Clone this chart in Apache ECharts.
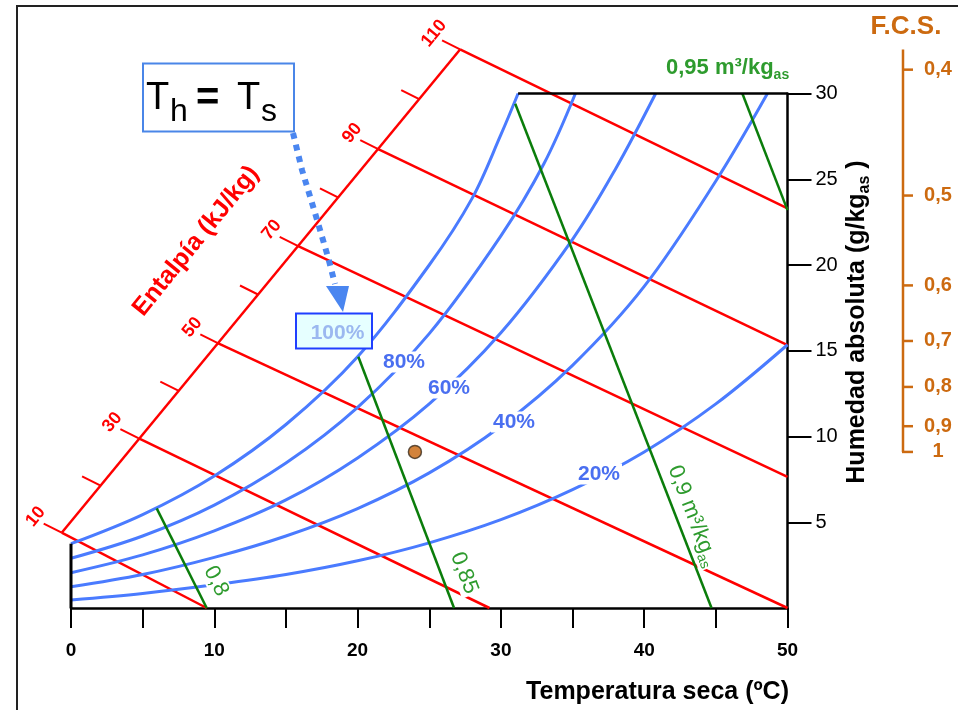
<!DOCTYPE html>
<html><head><meta charset="utf-8">
<script src="https://cdn.jsdelivr.net/npm/echarts@6/dist/echarts.min.js"></script>
<style>html,body{margin:0;padding:0;background:#fff}#c{width:958px;height:710px}</style>
</head><body><div id="c"></div>
<script>
// ---------------- data ----------------
const xTickLabels = [0, 10, 20, 30, 40, 50];
const yTickLabels = [5, 10, 15, 20, 25, 30];

// relative humidity curves: [dry temperature ºC, absolute humidity g/kg]
const rhNames = ['100%', '80%', '60%', '40%', '20%'];
const rh100 = [[0,3.75],[5,5.45],[10,7.7],[15,10.7],[20,14.65],[25,20.0],[28,23.9],[30,27.6],[31.2,30]];
const rh80  = [[0,2.9],[5,4.2],[10,6.0],[15,8.45],[20,11.7],[25,16.0],[30,21.7],[33,25.9],[35.2,30]];
const rh60  = [[0,2.06],[5,3.1],[10,4.5],[15,6.3],[20,8.75],[25,11.9],[30,16.05],[35,21.5],[38,25.6],[40.8,30]];
const rh40  = [[0,1.24],[5,1.95],[10,2.95],[15,4.2],[20,5.8],[25,7.88],[30,10.6],[35,14.15],[40,18.75],[45,24.9],[48.6,30]];
const rh20  = [[0,0.47],[5,0.85],[10,1.35],[15,1.95],[20,2.75],[25,3.8],[30,5.15],[35,6.9],[40,9.1],[45,11.9],[50,15.35]];

// enthalpy scale (kJ/kg): position of each graduation on the oblique axis
const enthalpyValues = [10, 20, 30, 40, 50, 60, 70, 80, 90, 100, 110];
const enthalpyAxisT  = [-0.65, 2.03, 4.7, 7.49, 10.28, 13.05, 15.82, 18.63, 21.44, 24.3, 27.15];
const enthalpyAxisW  = [4.39, 7.15, 9.9, 12.67, 15.43, 18.28, 21.12, 23.94, 26.76, 29.67, 32.57];
const enthalpyLabelled = [10, 30, 50, 70, 90, 110];
const enthalpyEndT = [9.47, 29.2, 50, 50, 50, 50];
const enthalpyEndW = [0, 0, 0, 7.65, 15.33, 23.3];

// specific volume lines (m3/kg as)
const volumeNames  = ['0,8', '0,85', '0,9', '0,95'];
const volumeStartT = [5.98, 20.05, 31.0, 46.85];
const volumeStartW = [5.81, 14.65, 29.4, 30];
const volumeEndT   = [9.47, 26.73, 44.7, 50];
const volumeEndW   = [0, 0, 0, 23.2];

// sensible heat factor scale (F.C.S.), graduations expressed on the humidity scale
const fcsLabels = ['0,4', '0,5', '0,6', '0,7', '0,8', '0,9', '1'];
const fcsW      = [31.39, 24.05, 18.81, 15.57, 12.89, 10.60, 9.10];
const fcsAxisW  = [32.56, 9.09];

// state point
const statePoint = [24.0, 9.1];

// ---------------- chart ----------------
const FONT = "'Liberation Sans', Arial, Helvetica, sans-serif";
const RED = '#ff0000', BLUE = '#4a7bff', GREEN = '#0b7d0b', GTXT = '#2e9b2e', ORANGE = '#cc6a10', BTXT = '#4a6ff0';
const FCS_X = 58.06;
const chart = echarts.init(document.getElementById('c'), null, {renderer: 'canvas', width: 958, height: 710});

// straight segments drawn through the cartesian scales: rows [x1, y1, x2, y2]
function segments(rows, color, width, z) {
  return {
    type: 'custom', coordinateSystem: 'cartesian2d', clip: false, silent: true, z: z, data: rows,
    encode: {x: [0, 2], y: [1, 3]},
    renderItem: function (params, api) {
      const a = api.coord([api.value(0), api.value(1)]);
      const b = api.coord([api.value(2), api.value(3)]);
      return {type: 'line', shape: {x1: a[0], y1: a[1], x2: b[0], y2: b[1]},
        style: {stroke: color, lineWidth: width, lineCap: 'butt'}};
    }
  };
}
const series = [];
// enthalpy lines
series.push(segments(enthalpyLabelled.map(function (h, i) {
  const k = enthalpyValues.indexOf(h);
  return [enthalpyAxisT[k], enthalpyAxisW[k], enthalpyEndT[i], enthalpyEndW[i]];
}), RED, 2.5, 2));
// enthalpy oblique axis
const nE = enthalpyValues.length - 1;
series.push(segments([[enthalpyAxisT[0], enthalpyAxisW[0], enthalpyAxisT[nE], enthalpyAxisW[nE]]], RED, 2.5, 2));
// enthalpy ticks + labels
series.push({
  type: 'custom', coordinateSystem: 'cartesian2d', clip: false, silent: true, z: 3,
  data: enthalpyValues.map(function (h, i) { return [enthalpyAxisT[i], enthalpyAxisW[i], h]; }),
  renderItem: function (params, api) {
    const p = api.coord([api.value(0), api.value(1)]);
    const h = api.value(2);
    const children = [{type: 'line', shape: {x1: p[0], y1: p[1], x2: p[0] - 18, y2: p[1] - 9},
      style: {stroke: RED, lineWidth: 2}}];
    if (enthalpyLabelled.indexOf(h) >= 0) {
      children.push({type: 'text', x: p[0] - 26, y: p[1] - 16, rotation: 50.5 * Math.PI / 180,
        style: {text: String(h), font: 'bold 18px ' + FONT, fill: RED, align: 'center', verticalAlign: 'middle'}});
    }
    return {type: 'group', children: children};
  }
});
// relative humidity curves
[rh100, rh80, rh60, rh40, rh20].forEach(function (d) {
  series.push({type: 'line', data: d, symbol: 'none', showSymbol: false, smooth: 0.35, silent: true, z: 3,
    lineStyle: {color: BLUE, width: 3}, itemStyle: {color: BLUE}});
});
// specific volume lines
series.push(segments(volumeNames.map(function (n, i) {
  return [volumeStartT[i], volumeStartW[i], volumeEndT[i], volumeEndW[i]];
}), GREEN, 2.5, 4));
// black frame pieces (left at 0 ºC, top at 30 g/kg)
series.push(segments([[0, 0, 0, rh100[0][1]]], '#000', 3, 5));
series.push(segments([[rh100[rh100.length - 1][0], 30, 50, 30]], '#000', 2.5, 5));
// F.C.S. scale
series.push(segments([[FCS_X, fcsAxisW[0], FCS_X, fcsAxisW[1]]], ORANGE, 2.5, 5));
series.push({
  type: 'custom', coordinateSystem: 'cartesian2d', clip: false, silent: true, z: 5,
  data: fcsW.map(function (w, i) { return [FCS_X, w, i]; }),
  renderItem: function (params, api) {
    const p = api.coord([api.value(0), api.value(1)]);
    return {type: 'group', children: [
      {type: 'line', shape: {x1: p[0] - 1, y1: p[1], x2: p[0] + 10, y2: p[1]}, style: {stroke: ORANGE, lineWidth: 2.5}},
      {type: 'text', x: p[0] + 35, y: p[1], style: {text: fcsLabels[api.value(2)], font: 'bold 20px ' + FONT,
        fill: ORANGE, align: 'center', verticalAlign: 'middle'}}
    ]};
  }
});
// state point
series.push({type: 'scatter', data: [statePoint], symbol: 'circle', symbolSize: 13, silent: true, z: 6,
  itemStyle: {color: '#c8640a', borderColor: '#3a2a1a', borderWidth: 1.5}});

function txt(x, y, text, font, fill, rot, extra) {
  return {type: 'text', x: x, y: y, rotation: (rot || 0) * Math.PI / 180, z: 100,
    style: Object.assign({text: text, font: font, fill: fill, align: 'center', verticalAlign: 'middle'}, extra || {})};
}
const white = {backgroundColor: '#fff', padding: [0, 2]};
const subRich = function (size, weight, color) {
  const ss = Math.round(size * 0.62);
  return {
    n: {font: weight + ' ' + size + 'px ' + FONT, fill: color, lineHeight: size + 6, verticalAlign: 'middle'},
    s: {font: weight + ' ' + ss + 'px ' + FONT, fill: color, lineHeight: ss, verticalAlign: 'bottom'}
  };
};

const graphic = [
  {type: 'rect', shape: {x: 17, y: 6, width: 1000, height: 800}, style: {fill: 'none', stroke: '#222', lineWidth: 2}, z: 0, silent: true},
  // enthalpy title
  txt(196, 241, 'Entalpía (kJ/kg)', 'bold 25px ' + FONT, RED, 51),
  // RH labels
  txt(404, 362, rhNames[1], 'bold 21px ' + FONT, BTXT, 0, white),
  txt(449, 388, rhNames[2], 'bold 21px ' + FONT, BTXT, 0, white),
  txt(514, 422, rhNames[3], 'bold 21px ' + FONT, BTXT, 0, white),
  txt(599, 474, rhNames[4], 'bold 21px ' + FONT, BTXT, 0, white),
  // volume labels
  txt(216, 581, volumeNames[0], '500 22px ' + FONT, GTXT, -64, white),
  txt(464, 573, volumeNames[1], '500 22px ' + FONT, GTXT, -69, white),
  {type: 'text', x: 693, y: 516, rotation: -69 * Math.PI / 180, z: 100,
    style: {text: '{n|' + volumeNames[2] + ' m³/kg}{s|as}', rich: subRich(22, '500', GTXT), fill: GTXT,
      align: 'center', verticalAlign: 'middle', backgroundColor: '#fff', padding: [0, 1]}},
  {type: 'text', x: 666, y: 68, z: 100,
    style: {text: '{n|' + volumeNames[3] + ' m³/kg}{s|as}', rich: subRich(22, 'bold', GTXT), fill: GTXT,
      align: 'left', verticalAlign: 'middle'}},
  // axis titles
  txt(789, 692, 'Temperatura seca (ºC)', 'bold 25px ' + FONT, '#000', 0, {align: 'right'}),
  {type: 'text', x: 857, y: 322, rotation: Math.PI / 2, z: 100,
    style: {text: '{n|Humedad absoluta (g/kg}{s|as}{n| )}', rich: subRich(25, 'bold', '#000'), fill: '#000',
      align: 'center', verticalAlign: 'middle'}},
  txt(906, 27, 'F.C.S.', 'bold 26px ' + FONT, ORANGE),
  // Th = Ts box
  {type: 'rect', shape: {x: 143, y: 63.5, width: 151, height: 68}, style: {fill: '#fff', stroke: '#4a86e8', lineWidth: 2}, z: 90},
  txt(146, 98.5, 'T', '38px ' + FONT, '#000', 0, {align: 'left'}),
  txt(170, 112, 'h', '32px ' + FONT, '#000', 0, {align: 'left'}),
  txt(196, 99, '=', 'bold 40px ' + FONT, '#000', 0, {align: 'left'}),
  txt(237, 98.5, 'T', '38px ' + FONT, '#000', 0, {align: 'left'}),
  txt(261, 112, 's', '32px ' + FONT, '#000', 0, {align: 'left'}),
  // dotted arrow
  {type: 'polyline', shape: {points: [[293, 133], [302, 170], [315, 213], [328, 257], [335, 284]]},
    style: {stroke: '#4a86f0', lineWidth: 6, lineDash: [6, 6], fill: 'none'}, z: 90},
  {type: 'polygon', shape: {points: [[326, 286], [349, 286], [343, 312]]}, style: {fill: '#4a86f0'}, z: 90},
  // 100% box
  {type: 'rect', shape: {x: 296, y: 313.5, width: 76, height: 35}, style: {fill: '#e6ffff', stroke: '#1f3fff', lineWidth: 2}, z: 90},
  txt(337.5, 333, rhNames[0], 'bold 21px ' + FONT, '#9bb8f0')
];

chart.setOption({
  animation: false,
  backgroundColor: '#fff',
  grid: {left: 71, right: 170.5, top: 93.5, bottom: 102, containLabel: false, outerBoundsMode: 'none'},
  xAxis: {
    type: 'value', min: 0, max: 50, interval: 5,
    axisLine: {show: true, onZero: false, lineStyle: {color: '#000', width: 2.5}},
    axisTick: {show: true, length: 20, lineStyle: {color: '#000', width: 2}},
    axisLabel: {formatter: function (v) { return xTickLabels.indexOf(v) >= 0 ? String(v) : ''; },
      color: '#000', fontFamily: FONT, fontWeight: 'bold', fontSize: 19, margin: 33},
    splitLine: {show: false}
  },
  yAxis: {
    type: 'value', position: 'right', min: 0, max: 30, interval: 5,
    axisLine: {show: true, onZero: false, lineStyle: {color: '#000', width: 2.5}},
    axisTick: {show: true, length: 24, customValues: yTickLabels, lineStyle: {color: '#000', width: 2}},
    axisLabel: {customValues: yTickLabels, formatter: function (v) { return String(v); },
      color: '#000', fontFamily: FONT, fontSize: 20, margin: 28},
    splitLine: {show: false}
  },
  series: series,
  graphic: graphic
});
</script>
</body></html>
